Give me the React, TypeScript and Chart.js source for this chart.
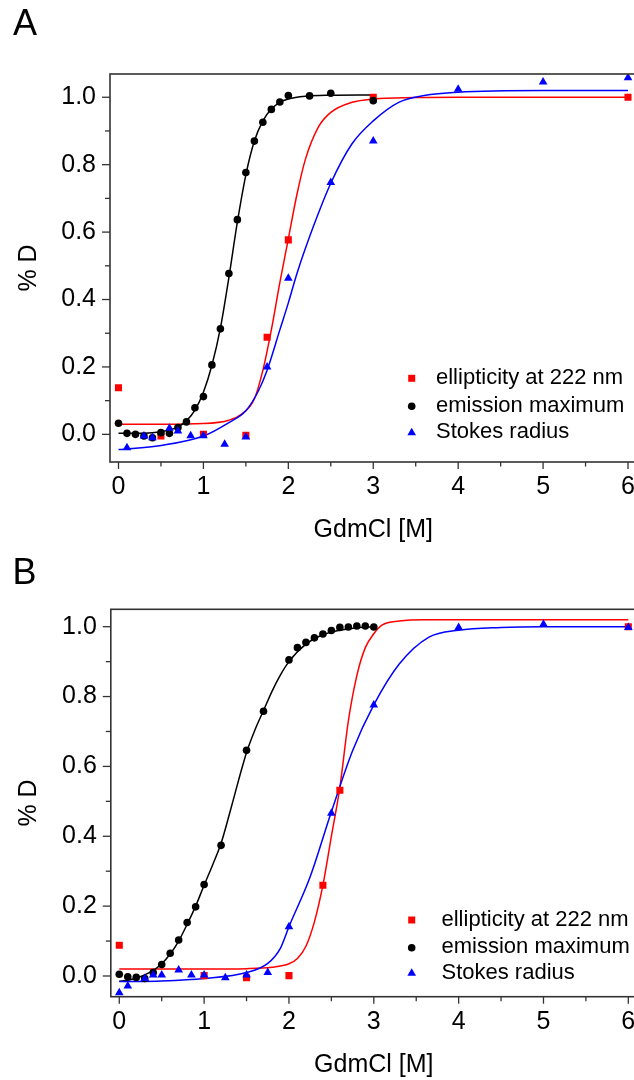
import React, { useEffect, useRef } from 'react';
import { Chart, registerables } from 'chart.js';

Chart.register(...registerables);

const FONT_FAMILY = "'Liberation Sans', Arial, Helvetica, sans-serif";

// ---- axes / labels ----
const Y_TICKS = [0, 0.2, 0.4, 0.6, 0.8, 1.0];
const Y_MINOR = [0.1, 0.3, 0.5, 0.7, 0.9];
const X_TICKS = [0, 1, 2, 3, 4, 5, 6];
const X_MINOR = [0.5, 1.5, 2.5, 3.5, 4.5, 5.5];
const X_TITLE = 'GdmCl [M]';
const Y_TITLE = '% D';
const LEGEND_LABELS = ['ellipticity at 222 nm', 'emission maximum', 'Stokes radius'];
const COLOR_ELL = '#ff0000';
const COLOR_EM = '#000000';
const COLOR_STK = '#0000ff';

// ---- Panel A: measured points ----
const A_ELL_X = [0, 0.5, 1.0, 1.5, 1.75, 2.0, 3.0, 6.0];
const A_ELL_Y = [0.138, -0.005, 0.0, -0.003, 0.288, 0.577, 1.0, 1.0];
const A_EM_X = [0, 0.1, 0.2, 0.3, 0.4, 0.5, 0.6, 0.7, 0.8, 0.9, 1.0, 1.1, 1.2, 1.3, 1.4, 1.5, 1.6, 1.7, 1.8, 1.9, 2.0, 2.25, 2.5, 3.0];
const A_EM_Y = [0.033, 0.003, 0.0, -0.005, -0.01, 0.005, 0.003, 0.02, 0.037, 0.079, 0.112, 0.206, 0.313, 0.477, 0.637, 0.777, 0.87, 0.926, 0.964, 0.986, 1.005, 1.004, 1.012, 0.99];
const A_STK_X = [0, 0.1, 0.3, 0.4, 0.5, 0.6, 0.7, 0.85, 1.0, 1.25, 1.5, 1.75, 2.0, 2.5, 3.0, 4.0, 5.0, 6.0];
const A_STK_Y = [-0.095, -0.04, -0.005, -0.01, -0.095, 0.018, 0.01, -0.004, -0.004, -0.029, -0.008, 0.2, 0.463, 0.747, 0.87, 1.024, 1.045, 1.058];

// ---- Panel A: fitted curves ----
const A_FIT_ELL_X = [0, 0.5, 1.0, 1.3, 1.45, 1.6, 1.7, 1.8, 1.9, 2.0, 2.1, 2.2, 2.35, 2.5, 2.75, 3.0, 3.5, 4.0, 6.0];
const A_FIT_ELL_Y = [0.03, 0.03, 0.032, 0.042, 0.06, 0.105, 0.19, 0.31, 0.45, 0.58, 0.71, 0.815, 0.91, 0.955, 0.985, 0.995, 0.999, 1.0, 1.0];
const A_FIT_EM_X = [0, 0.2, 0.4, 0.5, 0.6, 0.7, 0.8, 0.9, 1.0, 1.1, 1.2, 1.3, 1.4, 1.5, 1.6, 1.7, 1.8, 1.9, 2.0, 2.2, 2.5, 3.0];
const A_FIT_EM_Y = [0.003, 0.003, 0.005, 0.008, 0.013, 0.022, 0.04, 0.072, 0.125, 0.205, 0.315, 0.465, 0.63, 0.77, 0.87, 0.93, 0.965, 0.985, 0.995, 1.003, 1.006, 1.007];
const A_FIT_STK_X = [0, 0.5, 1.0, 1.3, 1.5, 1.65, 1.75, 1.9, 2.0, 2.1, 2.3, 2.5, 2.75, 3.0, 3.3, 3.6, 4.0, 5.0, 6.0];
const A_FIT_STK_Y = [-0.045, -0.033, -0.005, 0.035, 0.07, 0.13, 0.19, 0.31, 0.39, 0.476, 0.62, 0.745, 0.862, 0.93, 0.985, 1.005, 1.015, 1.02, 1.02];

// ---- Panel B: measured points ----
const B_ELL_X = [0, 1.0, 1.5, 2.0, 2.4, 2.6, 6.0];
const B_ELL_Y = [0.088, 0.001, -0.005, 0.001, 0.26, 0.532, 1.0];
const B_EM_X = [0, 0.1, 0.2, 0.3, 0.4, 0.5, 0.6, 0.7, 0.8, 0.9, 1.0, 1.2, 1.5, 1.7, 2.0, 2.1, 2.2, 2.3, 2.4, 2.5, 2.6, 2.7, 2.8, 2.9, 3.0];
const B_EM_Y = [0.005, -0.002, -0.004, -0.007, 0.01, 0.033, 0.065, 0.103, 0.153, 0.198, 0.262, 0.374, 0.646, 0.758, 0.905, 0.94, 0.955, 0.968, 0.979, 0.989, 0.998, 0.999, 1.002, 1.002, 0.999];
const B_STK_X = [0, 0.1, 0.3, 0.4, 0.5, 0.7, 0.85, 1.0, 1.25, 1.5, 1.75, 2.0, 2.5, 3.0, 4.0, 5.0, 6.0];
const B_STK_Y = [-0.048, -0.029, -0.007, 0.003, 0.003, 0.017, 0.003, 0.003, -0.005, 0.003, 0.01, 0.141, 0.466, 0.776, 0.998, 1.007, 0.998];

// ---- Panel B: fitted curves ----
const B_FIT_ELL_X = [0, 1.0, 1.5, 1.8, 2.0, 2.1, 2.2, 2.3, 2.4, 2.5, 2.6, 2.7, 2.8, 2.9, 3.0, 3.1, 3.3, 3.6, 4.0, 6.0];
const B_FIT_ELL_Y = [0.02, 0.02, 0.021, 0.025, 0.035, 0.05, 0.085, 0.155, 0.26, 0.4, 0.54, 0.73, 0.86, 0.94, 0.98, 1.005, 1.016, 1.02, 1.02, 1.02];
const B_FIT_EM_X = [0, 0.1, 0.2, 0.3, 0.4, 0.5, 0.6, 0.7, 0.8, 0.9, 1.0, 1.1, 1.2, 1.3, 1.4, 1.5, 1.6, 1.7, 1.8, 1.9, 2.0, 2.2, 2.4, 2.6, 2.8, 3.0];
const B_FIT_EM_Y = [-0.015, -0.012, -0.006, 0.003, 0.016, 0.035, 0.063, 0.1, 0.148, 0.2, 0.26, 0.318, 0.38, 0.465, 0.555, 0.64, 0.705, 0.76, 0.815, 0.862, 0.9, 0.95, 0.977, 0.99, 0.997, 1.0];
const B_FIT_STK_X = [0, 0.5, 1.0, 1.5, 1.75, 1.9, 2.0, 2.25, 2.5, 2.75, 3.0, 3.3, 3.65, 4.0, 4.5, 5.0, 6.0];
const B_FIT_STK_Y = [-0.016, -0.014, -0.007, 0.01, 0.036, 0.08, 0.141, 0.284, 0.47, 0.645, 0.776, 0.893, 0.97, 0.99, 0.998, 1.0, 1.0];

const CANVAS_W = 660;
const TICK_FONT = 25;
const TITLE_FONT = 25;

type XY = { x: number; y: number };
const pts = (xs: number[], ys: number[]): XY[] => xs.map((x, i) => ({ x, y: ys[i] }));

type Area = { left: number; top: number; right: number; bottom: number };

type PanelProps = {
  letter: string;
  top: number;
  height: number;
  area: Area;
  xMin: number;
  xMax: number;
  yMin: number;
  yMax: number;
  ell: XY[];
  em: XY[];
  stk: XY[];
  fitEll: XY[];
  fitEm: XY[];
  fitStk: XY[];
  legend: { markerX: number; textX: number; rows: number[] };
  letterPos: { x: number; y: number };
  xLabelPad: number;
};

function drawMarker(ctx: CanvasRenderingContext2D, kind: string, x: number, y: number, color: string) {
  ctx.save();
  ctx.fillStyle = color;
  ctx.beginPath();
  if (kind === 'rect') {
    ctx.rect(x - 3.5, y - 3.5, 7, 7);
  } else if (kind === 'circle') {
    ctx.arc(x, y, 3.8, 0, Math.PI * 2);
  } else {
    const r = 5;
    ctx.moveTo(x, y - r);
    ctx.lineTo(x + r * 0.866, y + r / 2);
    ctx.lineTo(x - r * 0.866, y + r / 2);
    ctx.closePath();
  }
  ctx.fill();
  ctx.restore();
}

function Panel(p: PanelProps) {
  const ref = useRef<HTMLCanvasElement | null>(null);

  useEffect(() => {
    const canvas = ref.current;
    if (!canvas) return;

    const decor = {
      id: 'decor' + p.letter,
      afterDraw(chart: any) {
        const ctx: CanvasRenderingContext2D = chart.ctx;
        const a = chart.chartArea;
        const xs = chart.scales.x;
        const ys = chart.scales.y;
        ctx.save();
        ctx.strokeStyle = '#333333';
        ctx.lineWidth = 1.6;
        ctx.strokeRect(a.left, a.top, a.right - a.left, a.bottom - a.top);
        ctx.lineWidth = 1.3;
        const tick = (x1: number, y1: number, x2: number, y2: number) => {
          ctx.beginPath();
          ctx.moveTo(x1, y1);
          ctx.lineTo(x2, y2);
          ctx.stroke();
        };
        Y_TICKS.forEach((v) => {
          const py = ys.getPixelForValue(v);
          tick(a.left - 8, py, a.left, py);
        });
        Y_MINOR.forEach((v) => {
          const py = ys.getPixelForValue(v);
          tick(a.left - 5, py, a.left, py);
        });
        X_TICKS.forEach((v) => {
          const px = xs.getPixelForValue(v);
          tick(px, a.bottom, px, a.bottom + 7);
        });
        X_MINOR.forEach((v) => {
          const px = xs.getPixelForValue(v);
          tick(px, a.bottom, px, a.bottom + 4.5);
        });
        ctx.fillStyle = '#000';
        ctx.font = `36px ${FONT_FAMILY}`;
        ctx.textBaseline = 'alphabetic';
        ctx.textAlign = 'left';
        ctx.fillText(p.letter, p.letterPos.x, p.letterPos.y);
        const kinds = ['rect', 'circle', 'triangle'];
        const colors = [COLOR_ELL, COLOR_EM, COLOR_STK];
        ctx.font = `22px ${FONT_FAMILY}`;
        LEGEND_LABELS.forEach((label, i) => {
          const ry = p.legend.rows[i];
          drawMarker(ctx, kinds[i], p.legend.markerX, ry, colors[i]);
          ctx.fillStyle = '#000';
          ctx.fillText(label, p.legend.textX, ry + 5.7);
        });
        ctx.restore();
      },
    };

    const pointSet = (data: XY[], style: string, radius: number, color: string) => ({
      data,
      showLine: false,
      pointStyle: style,
      pointRadius: radius,
      pointBackgroundColor: color,
      pointBorderColor: color,
      pointBorderWidth: 0,
      backgroundColor: color,
      borderColor: color,
    });
    const lineSet = (data: XY[], color: string) => ({
      data,
      showLine: true,
      pointRadius: 0,
      borderColor: color,
      borderWidth: 1.5,
      backgroundColor: color,
      cubicInterpolationMode: 'monotone',
      fill: false,
    });

    const chart = new Chart(canvas, {
      type: 'scatter',
      data: {
        datasets: [
          pointSet(p.stk, 'triangle', 5, COLOR_STK),
          pointSet(p.em, 'circle', 3.8, COLOR_EM),
          pointSet(p.ell, 'rect', 5, COLOR_ELL),
          lineSet(p.fitStk, COLOR_STK),
          lineSet(p.fitEm, COLOR_EM),
          lineSet(p.fitEll, COLOR_ELL),
        ] as any,
      },
      options: {
        animation: false,
        responsive: false,
        maintainAspectRatio: false,
        events: [],
        layout: {
          padding: { left: 0, top: p.area.top, right: CANVAS_W - p.area.right, bottom: 0 },
        },
        plugins: {
          legend: { display: false },
          tooltip: { enabled: false },
        },
        scales: {
          x: {
            type: 'linear',
            min: p.xMin,
            max: p.xMax,
            afterBuildTicks: (s: any) => {
              s.ticks = X_TICKS.map((v) => ({ value: v }));
            },
            afterFit: (s: any) => {
              s.height = p.height - p.area.bottom;
            },
            grid: { display: true, drawOnChartArea: false, drawTicks: false },
            border: { display: false },
            ticks: {
              padding: p.xLabelPad,
              color: '#000',
              font: { size: TICK_FONT, family: FONT_FAMILY },
              maxRotation: 0,
              autoSkip: false,
              callback: (v: any) => String(v),
            },
            title: {
              display: true,
              text: X_TITLE,
              color: '#000',
              font: { size: TITLE_FONT, family: FONT_FAMILY },
              padding: { top: 0, bottom: 0 },
            },
          },
          y: {
            type: 'linear',
            min: p.yMin,
            max: p.yMax,
            afterBuildTicks: (s: any) => {
              s.ticks = Y_TICKS.map((v) => ({ value: v }));
            },
            afterFit: (s: any) => {
              s.width = p.area.left;
            },
            grid: { display: true, drawOnChartArea: false, drawTicks: false },
            border: { display: false },
            ticks: {
              padding: 14,
              color: '#000',
              font: { size: TICK_FONT, family: FONT_FAMILY },
              autoSkip: false,
              callback: (v: any) => Number(v).toFixed(1),
            },
            title: {
              display: true,
              text: Y_TITLE,
              color: '#000',
              font: { size: TITLE_FONT, family: FONT_FAMILY },
              padding: { top: 14, bottom: 0 },
            },
          },
        },
      } as any,
      plugins: [decor],
    });
    return () => chart.destroy();
  }, []);

  return (
    <canvas
      ref={ref}
      width={CANVAS_W}
      height={p.height}
      style={{ position: 'absolute', left: 0, top: p.top, width: CANVAS_W, height: p.height, display: 'block' }}
    />
  );
}

export default function App() {
  return (
    <div
      style={{
        position: 'fixed',
        left: 0,
        top: 0,
        width: 634,
        height: 1080,
        overflow: 'hidden',
        background: '#fff',
      }}
    >
      <Panel
        letter="A"
        top={0}
        height={545}
        area={{ left: 110, top: 74, right: 636.5, bottom: 462 }}
        xMin={-0.1}
        xMax={6.1}
        yMin={-0.082}
        yMax={1.069}
        ell={pts(A_ELL_X, A_ELL_Y)}
        em={pts(A_EM_X, A_EM_Y)}
        stk={pts(A_STK_X, A_STK_Y)}
        fitEll={pts(A_FIT_ELL_X, A_FIT_ELL_Y)}
        fitEm={pts(A_FIT_EM_X, A_FIT_EM_Y)}
        fitStk={pts(A_FIT_STK_X, A_FIT_STK_Y)}
        legend={{ markerX: 411.7, textX: 436, rows: [378.3, 406.2, 432.7] }}
        letterPos={{ x: 13, y: 35 }}
        xLabelPad={10}
      />
      <Panel
        letter="B"
        top={545}
        height={535}
        area={{ left: 110.8, top: 64.3, right: 636.8, bottom: 451.7 }}
        xMin={-0.1}
        xMax={6.1}
        yMin={-0.0593}
        yMax={1.0498}
        ell={pts(B_ELL_X, B_ELL_Y)}
        em={pts(B_EM_X, B_EM_Y)}
        stk={pts(B_STK_X, B_STK_Y)}
        fitEll={pts(B_FIT_ELL_X, B_FIT_ELL_Y)}
        fitEm={pts(B_FIT_EM_X, B_FIT_EM_Y)}
        fitStk={pts(B_FIT_STK_X, B_FIT_STK_Y)}
        legend={{ markerX: 411.7, textX: 441.5, rows: [375, 402.7, 428.3] }}
        letterPos={{ x: 12.5, y: 39 }}
        xLabelPad={10}
      />
    </div>
  );
}
